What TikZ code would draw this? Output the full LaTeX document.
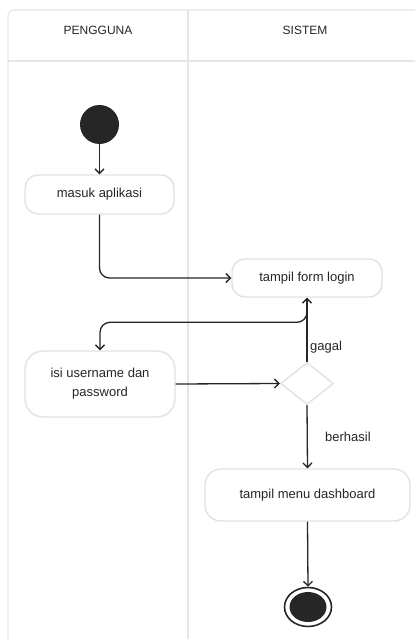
\documentclass[tikz,border=0pt]{standalone}
\usepackage{fontspec}
\setmainfont{Liberation Sans}
\usetikzlibrary{arrows.meta,shapes.geometric,calc}

\definecolor{ink}{HTML}{262626}
\definecolor{grid}{HTML}{E6E6E6}
\definecolor{edge}{HTML}{E2E2E2}

\tikzset{
  x=1pt, y=-1pt,
  action/.style={draw=edge, line width=1.4pt, rounded corners=13pt, fill=white,
    text=ink, font=\fontsize{13}{19}\selectfont, align=center, inner sep=0pt},
  choice/.style={diamond, draw=edge, line width=1.4pt, fill=white, inner sep=0pt,
    minimum width=53pt, minimum height=42pt},
  flow/.style={draw=ink, line width=1.3pt, rounded corners=10pt,
    -{Straight Barb[length=4.5pt,width=9pt,line width=1.3pt]}},
  lane/.style={text=ink, font=\fontsize{12}{14}\selectfont},
  guard/.style={text=ink, font=\fontsize{13}{15}\selectfont, anchor=west, inner sep=0pt},
}

\begin{document}
\begin{tikzpicture}
  \useasboundingbox (0,0) rectangle (415,639);
  \fill[white] (0,0) rectangle (415,639);
  \clip (0,0) rectangle (415,639);

  % swimlane frame
  \draw[grid, line width=1.2pt, rounded corners=6pt] (8,660) -- (8,10) -- (430,10);
  \draw[grid, line width=1.2pt] (8,61) -- (430,61);
  \draw[grid, line width=1.2pt] (188,10) -- (188,660);
  \node[lane] (lane1) at (98,30) {PENGGUNA};
  \node[lane] (lane2) at (305,30) {SISTEM};

  % activities
  \node[circle, fill=ink, minimum size=39pt, inner sep=0pt] (start) at (99.5,124.5) {};
  \node[action, minimum width=149pt, minimum height=39pt] (masuk) at (99.5,194.5) {masuk aplikasi};
  \node[action, minimum width=150pt, minimum height=38pt] (login) at (307,278) {tampil form login};
  \node[action, minimum width=150pt, minimum height=66pt, rounded corners=18pt] (isi) at (100,384)
    {isi username dan\\password};
  \node[choice] (cek) at (307,383.5) {};
  \node[action, minimum width=205pt, minimum height=52pt, rounded corners=16pt] (dash) at (307.5,495)
    {tampil menu dashboard};
  \node[ellipse, draw=ink, line width=1.6pt, fill=white, minimum width=47pt, minimum height=39pt,
    inner sep=0pt] (stop) at (308,607) {};
  \node[ellipse, fill=ink, minimum width=37pt, minimum height=30pt, inner sep=0pt] (stopin) at (308,607) {};

  % connectors
  \draw[flow] (start) -- (masuk);
  \draw[flow] (masuk.south) |- (login.west);
  \draw[flow] (isi.east) -- (cek.west);
  \draw[flow] (cek.north) -- (login.south);
  \coordinate (split) at (307,309);
  \draw[flow] (split) |- ($(isi.north)+(0,-28)$) -- (isi.north);
  \draw[flow] (cek.south) -- (dash.north);
  \draw[flow] (dash.south) -- (stop.north);

  % guards
  \node[guard] (gagal) at (310,347) {gagal};
  \node[guard] (ok) at (325,437) {berhasil};
\end{tikzpicture}
\end{document}
